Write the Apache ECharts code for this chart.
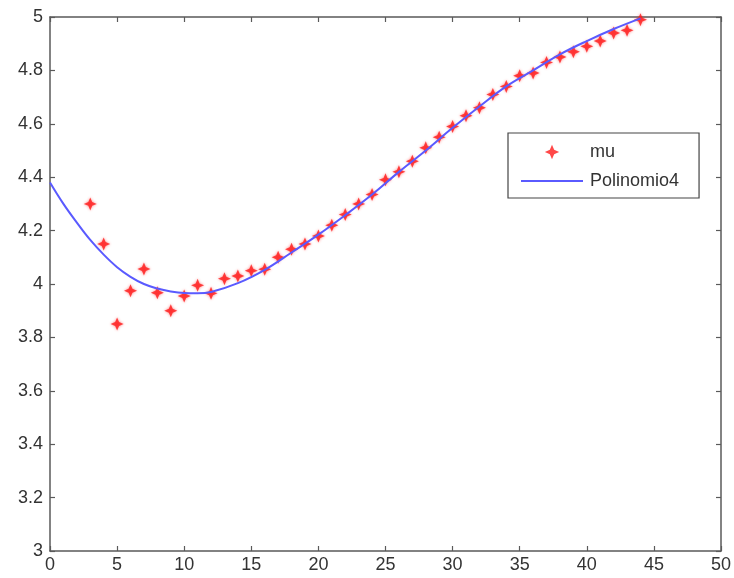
<!DOCTYPE html>
<html>
<head>
<meta charset="utf-8">
<script src="https://cdn.jsdelivr.net/npm/echarts@6/dist/echarts.min.js"></script>
<style>
  html, body { margin: 0; padding: 0; background: #fff; }
  #chart { width: 734px; height: 578px; }
</style>
</head>
<body>
<div id="chart"></div>
<script>
// Observed mu values at x = 3 .. 44
const muX = [3, 4, 5, 6, 7, 8, 9, 10, 11, 12, 13, 14, 15, 16, 17, 18, 19, 20, 21, 22, 23,
  24, 25, 26, 27, 28, 29, 30, 31, 32, 33, 34, 35, 36, 37, 38, 39, 40, 41, 42, 43, 44];
const muY = [4.30, 4.15, 3.85, 3.975, 4.056, 3.967, 3.90, 3.955, 3.995, 3.965, 4.02, 4.03,
  4.05, 4.055, 4.10, 4.13, 4.15, 4.18, 4.22, 4.26, 4.30, 4.335, 4.39, 4.42, 4.46, 4.51,
  4.55, 4.59, 4.63, 4.66, 4.71, 4.74, 4.78, 4.79, 4.83, 4.85, 4.87, 4.89, 4.91, 4.94,
  4.95, 4.99];

// 4th-degree polynomial fit, sampled along x
const fitX = [0, 1, 2, 3, 4, 5, 6, 7, 8, 9, 10, 11, 12, 14, 16, 18, 20, 22, 24, 26, 28,
  30, 32, 34, 36, 38, 40, 42, 44];
const fitY = [4.38, 4.30, 4.23, 4.165, 4.11, 4.063, 4.027, 4.0, 3.983, 3.972, 3.966,
  3.965, 3.970, 4.003, 4.053, 4.118, 4.185, 4.258, 4.335, 4.42, 4.50, 4.585, 4.665, 4.74,
  4.80, 4.86, 4.91, 4.955, 4.995];

const seriesNames = ['mu', 'Polinomio4'];

// four-pointed star marker
const starPath = 'path://M0,-10 L3,-3 L10,0 L3,3 L0,10 L-3,3 L-10,0 L-3,-3 Z';
// same star with an empty margin so the legend draws it at marker size
const starLegendPath = 'path://M-14,-14 M14,14 M0,-10 L3,-3 L10,0 L3,3 L0,10 L-3,3 L-10,0 L-3,-3 Z';
// plain horizontal stroke for the fit line in the legend
const lineLegendPath = 'path://M0,0 M62,20 M0,9.1 L62,9.1 L62,10.9 L0,10.9 Z';

const axisColor = '#5a5a5a';
const fontFamily = 'Liberation Sans, Arial, sans-serif';
const labelStyle = { fontFamily: fontFamily, fontSize: 18, color: '#333' };

const chart = echarts.init(document.getElementById('chart'), null, { renderer: 'canvas' });

const baseAxis = {
  axisLine: { show: true, onZero: false, lineStyle: { color: axisColor, width: 1.5 } },
  axisTick: { show: true, inside: true, length: 5, lineStyle: { color: axisColor, width: 1.2 } },
  splitLine: { show: false }
};

chart.setOption({
  animation: false,
  backgroundColor: '#fff',
  grid: { left: 50, right: 9, top: 17, bottom: 27, containLabel: false },
  xAxis: [
    Object.assign({}, baseAxis, {
      type: 'value', min: 0, max: 50, interval: 5, position: 'bottom',
      axisLabel: Object.assign({ margin: 5 }, labelStyle)
    }),
    Object.assign({}, baseAxis, {
      type: 'value', min: 0, max: 50, interval: 5, position: 'top',
      axisLabel: { show: false }
    })
  ],
  yAxis: [
    Object.assign({}, baseAxis, {
      type: 'value', min: 3, max: 5, interval: 0.2, position: 'left',
      axisLabel: Object.assign({ margin: 7 }, labelStyle)
    }),
    Object.assign({}, baseAxis, {
      type: 'value', min: 3, max: 5, interval: 0.2, position: 'right',
      axisLabel: { show: false }
    })
  ],
  legend: {
    orient: 'vertical',
    left: 508,
    top: 133,
    itemWidth: 62,
    itemHeight: 20,
    itemGap: 9,
    padding: [9, 20, 7, 13],
    borderColor: '#444',
    borderWidth: 1.2,
    backgroundColor: '#fff',
    textStyle: { fontFamily: fontFamily, fontSize: 18, color: '#333', padding: [0, 0, 0, 2] },
    data: [
      { name: seriesNames[0], icon: starLegendPath, itemStyle: { color: '#ff1a1a' } },
      { name: seriesNames[1], icon: lineLegendPath, itemStyle: { color: '#5a5aff' } }
    ]
  },
  series: [
    {
      name: seriesNames[0],
      type: 'scatter',
      symbol: starPath,
      symbolSize: 13,
      z: 2,
      itemStyle: { color: '#ff1a1a', shadowBlur: 3, shadowColor: 'rgba(255,0,0,0.6)' },
      data: muX.map((x, i) => [x, muY[i]])
    },
    {
      name: seriesNames[1],
      type: 'line',
      smooth: 0.4,
      showSymbol: false,
      symbol: 'none',
      z: 3,
      lineStyle: { color: '#5a5aff', width: 2 },
      itemStyle: { color: '#5a5aff' },
      data: fitX.map((x, i) => [x, fitY[i]])
    }
  ]
});
</script>
</body>
</html>
